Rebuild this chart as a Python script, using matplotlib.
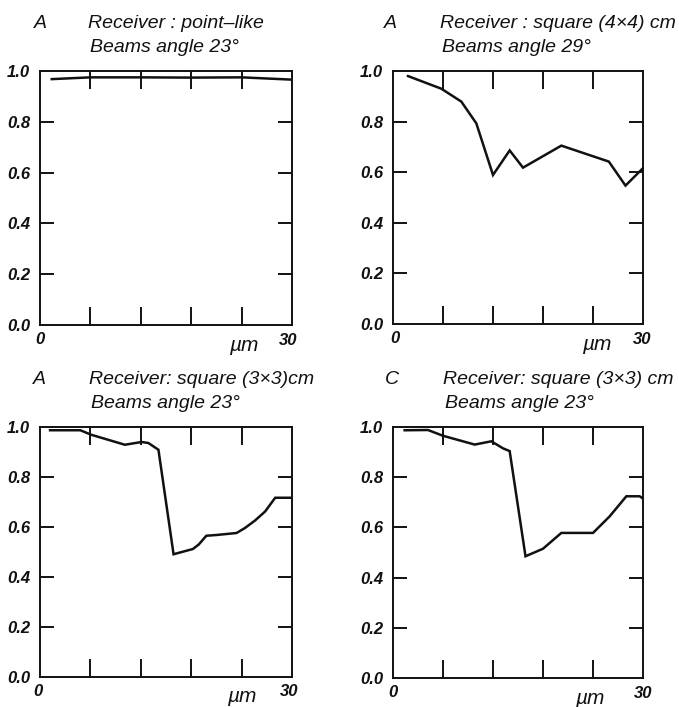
import matplotlib
matplotlib.use("Agg")
import matplotlib.pyplot as plt
import matplotlib.transforms as mtransforms

plt.rcParams['font.family'] = ['Liberation Sans Narrow', 'Liberation Sans', 'DejaVu Sans']

# ---- data ----
x1 = [1.4, 6, 12, 18, 24, 30]
y1 = [0.968, 0.975, 0.975, 0.974, 0.975, 0.966]

x2 = [1.8, 5.8, 8.2, 10.0, 12.0, 14.0, 15.6, 20.2, 25.9, 27.9, 30.0]
y2 = [0.980, 0.930, 0.879, 0.793, 0.589, 0.686, 0.618, 0.705, 0.642, 0.547, 0.616]

x3 = [1.2, 4.8, 6.1, 10.1, 12.1, 12.9, 14.1, 15.9, 18.2, 18.9, 19.8, 21.0, 23.4, 24.4, 25.6, 26.8, 28.0, 30.0]
y3 = [0.987, 0.987, 0.969, 0.929, 0.940, 0.936, 0.909, 0.491, 0.512, 0.530, 0.565, 0.568, 0.576, 0.596, 0.626, 0.662, 0.717, 0.717]

x4 = [1.4, 4.2, 6.0, 9.8, 11.8, 13.2, 14.0, 15.9, 18.0, 20.2, 24.0, 26.0, 28.0, 29.6, 30.0]
y4 = [0.987, 0.988, 0.965, 0.930, 0.943, 0.915, 0.904, 0.485, 0.515, 0.578, 0.578, 0.644, 0.724, 0.724, 0.715]

letters = ['A', 'A', 'A', 'C']
line1 = ['Receiver : point–like', 'Receiver : square (4×4) cm',
         'Receiver: square (3×3)cm', 'Receiver: square (3×3) cm']
line2 = ['Beams angle 23°', 'Beams angle 29°', 'Beams angle 23°', 'Beams angle 23°']

xticks = [6, 12, 18, 24]
yticks = [0.0, 0.2, 0.4, 0.6, 0.8, 1.0]
ytick_labels = ['0.0', '0.2', '0.4', '0.6', '0.8', '1.0']
x_end_labels = ['0', '30']
x_unit = 'µm'

W, H = 679, 707
fig = plt.figure(figsize=(W / 100, H / 100), dpi=100)

# axes boxes in pixels: left, top, right, bottom
boxes = [(40, 71, 292, 325), (393, 71, 643, 324), (40, 427, 292, 677), (393, 427, 643, 678)]
title_pos = [(40, 88, 23, 47), (390, 440, 23, 47), (39, 89, 380, 403), (392, 443, 380, 403)]
zero_x = [0.0, 0.2, -0.3, 0.0]
thirty_x = [29.5, 29.9, 29.6, 30.0]
unit_x = [24.2, 24.5, 24.0, 23.6]
data = [(x1, y1), (x2, y2), (x3, y3), (x4, y4)]

tfont = dict(fontsize=14, style='italic', color='#111111')
nfont = dict(fontsize=12, style='italic', weight='bold', color='#111111',
             family=['Liberation Sans', 'DejaVu Sans'])

for i, (l, t, r, b) in enumerate(boxes):
    ax = fig.add_axes([l / W, 1 - b / H, (r - l) / W, (b - t) / H])
    xs, ys = data[i]
    ax.plot(xs, ys, color='#111111', lw=1.8, solid_joinstyle='miter')
    ax.set_xlim(0, 30)
    ax.set_ylim(0, 1.0)
    for s in ax.spines.values():
        s.set_linewidth(1.4)
        s.set_color('#111111')
    ax.set_xticks(xticks)
    ax.set_xticklabels([])
    ax.tick_params(axis='x', which='major', direction='in', length=13, width=1.4,
                   top=True, bottom=True, color='#111111')
    ax.set_yticks(yticks)
    ax.set_yticklabels(ytick_labels, **nfont)
    ax.tick_params(axis='y', which='major', direction='in', length=10, width=1.4,
                   left=True, right=True, pad=7, color='#111111')
    yt = ax.yaxis.get_major_ticks()
    for k in (0, len(yt) - 1):
        yt[k].tick1line.set_visible(False)
        yt[k].tick2line.set_visible(False)
    trans = mtransforms.blended_transform_factory(ax.transData, ax.transAxes)
    ax.text(zero_x[i], -0.027, x_end_labels[0], transform=trans, ha='center', va='top', **nfont)
    ax.text(thirty_x[i], -0.03, x_end_labels[1], transform=trans, ha='center', va='top', **nfont)
    ax.text(unit_x[i], -0.042, x_unit, transform=trans, ha='center', va='top',
            fontsize=15, style='italic', color='#111111')

    lx, tx, y1p, y2p = title_pos[i]
    fig.text(lx / W, 1 - y1p / H, letters[i], ha='center', va='center', **tfont)
    fig.text(tx / W, 1 - y1p / H, line1[i], ha='left', va='center', **tfont)
    fig.text((tx + 2) / W, 1 - y2p / H, line2[i], ha='left', va='center', **tfont)

fig.savefig('out.png', dpi=100, facecolor='white')
